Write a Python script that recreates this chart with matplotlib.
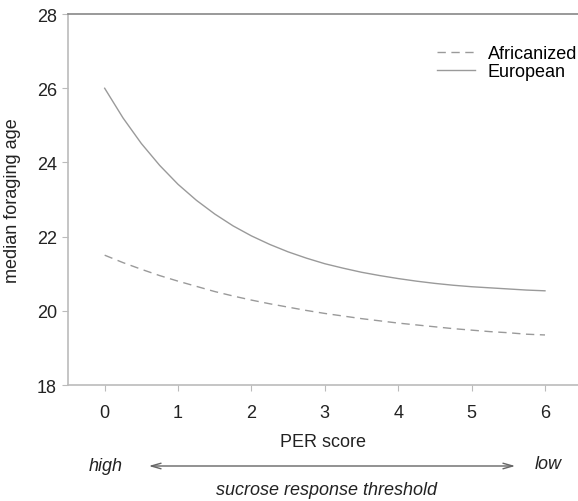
import matplotlib
matplotlib.use("Agg")
import matplotlib.pyplot as plt

plt.rcParams["font.family"] = ["Liberation Sans", "DejaVu Sans"]

# values
per_score = [0, 0.25, 0.5, 0.75, 1, 1.25, 1.5, 1.75, 2, 2.25, 2.5, 2.75, 3,
             3.25, 3.5, 3.75, 4, 4.25, 4.5, 4.75, 5, 5.25, 5.5, 5.75, 6]
european = [26.00, 25.20, 24.51, 23.92, 23.41, 22.98, 22.61, 22.29, 22.02, 21.79, 21.59, 21.42, 21.27,
            21.15, 21.04, 20.95, 20.87, 20.80, 20.74, 20.69, 20.65, 20.62, 20.59, 20.56, 20.54]
africanized = [21.50, 21.30, 21.12, 20.95, 20.80, 20.66, 20.52, 20.40, 20.29, 20.19, 20.10, 20.01, 19.93,
               19.86, 19.79, 19.73, 19.67, 19.62, 19.57, 19.52, 19.48, 19.44, 19.41, 19.37, 19.35]
x_ticks = [0, 1, 2, 3, 4, 5, 6]
y_ticks = [18, 20, 22, 24, 26, 28]

fig = plt.figure(figsize=(5.78, 5.02), dpi=100)
ax = fig.add_axes([0.1176, 0.231, 0.8824, 0.739])

line_col = "#9a9a9a"
ax.plot(per_score, africanized, color=line_col, lw=1.0, ls=(0, (6, 4)), label="Africanized")
ax.plot(per_score, european, color=line_col, lw=1.0, ls="-", label="European")

ax.set_xlim(-0.5, 6.45)
ax.set_ylim(18, 28)
ax.set_xticks(x_ticks)
ax.set_yticks(y_ticks)

ax.spines["right"].set_visible(False)
ax.spines["left"].set_color("#bbbbbb")
ax.spines["bottom"].set_color("#bbbbbb")
ax.spines["top"].set_color("#888888")
for s in ax.spines.values():
    s.set_linewidth(1.2)
ax.tick_params(axis="both", colors="#bbbbbb", labelcolor="#222222", labelsize=13, length=4)
ax.tick_params(axis="x", pad=10)
ax.tick_params(axis="y", pad=4)

ax.set_xlabel("PER score", fontsize=13, color="#222222", labelpad=8)
ax.set_ylabel("median foraging age", fontsize=13, color="#222222", labelpad=11)

leg = ax.legend(loc="upper right", bbox_to_anchor=(1.02, 0.945), frameon=False, fontsize=13,
                handlelength=2.1, handletextpad=0.7, labelspacing=0.05, borderaxespad=0.2)

# arrow for sucrose response threshold
fig.text(106 / 578, 1 - 467 / 502, "high", style="italic", fontsize=13, ha="center", va="center", color="#222222")
fig.text(548 / 578, 1 - 465 / 502, "low", style="italic", fontsize=13, ha="center", va="center", color="#222222")
fig.text(327 / 578, 1 - 491 / 502, "sucrose response threshold", style="italic", fontsize=13,
         ha="center", va="center", color="#222222")
ax.annotate("", xy=(146 / 578, 1 - 467 / 502), xytext=(518 / 578, 1 - 467 / 502),
            xycoords="figure fraction", textcoords="figure fraction",
            arrowprops=dict(arrowstyle="<->, head_length=0.7, head_width=0.2", color="#666666", lw=1.0))

fig.savefig("out.png", dpi=100)
